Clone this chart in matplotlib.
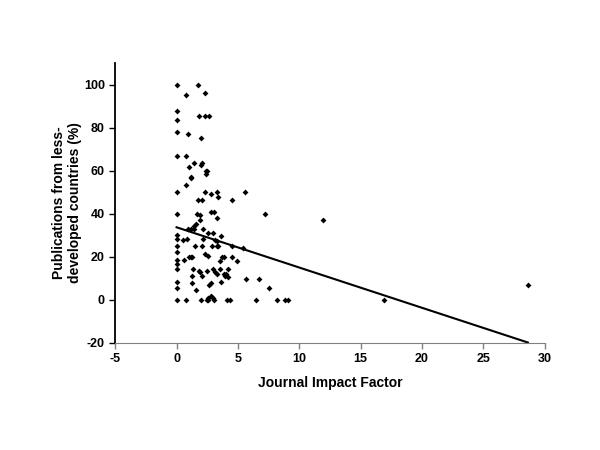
import numpy as np
import matplotlib.pyplot as plt

plt.rcParams['font.family'] = ['Liberation Sans', 'DejaVu Sans']
plt.rcParams['axes.unicode_minus'] = False

# Journal impact factor vs share of publications from less-developed countries
impact = [0, 1.74, 0.79, 2.28, 0, 0, 1.82, 2.28, 2.63, 0, 0.9, 2.0,
          0, 0.79, 1.41, 2.09, 2.0, 0.98, 2.36, 2.47, 2.36, 1.19, 1.17, 0.73,
          0, 2.28, 3.28, 5.59, 2.82, 3.39, 1.71, 2.09, 4.48,
          2.79, 3.04, 0, 1.65, 7.22, 1.93, 3.26, 11.94, 1.87, 1.6, 1.44,
          0.95, 1.17, 1.38, 2.14, 2.52, 2.96, 0, 0, 0.52, 0.81, 3.17, 3.31, 3.64, 2.12,
          0, 1.47, 2.09, 2.85, 3.36, 4.5, 5.4, 3.28,
          0, 2.33, 2.52, 1.0, 1.14, 1.28, 0, 0.62, 3.88, 4.48, 3.72, 3.55, 4.91,
          0, 0, 1.3, 2.98, 3.5, 4.2, 1.82, 2.47, 1.93, 3.15,
          3.28, 3.83, 4.04, 1.25, 2.09, 3.91, 4.2, 5.64, 6.73,
          0, 3.64, 1.28, 28.62, 2.66, 0, 7.54, 2.77, 1.6, 2.77, 2.6, 2.93,
          0, 0.79, 1.98, 2.44, 2.6, 3.07, 4.1, 4.37, 6.51, 8.22, 8.84, 9.09, 16.93]
less_dev = [100, 100, 95.1, 95.9, 87.5, 83.5, 85.6, 85.6, 85.6, 77.9, 76.9, 75.1,
            66.7, 66.7, 63.7, 63.4, 62.5, 61.6, 59.8, 59.8, 58.3, 57.2, 56.4, 53.3,
            50, 50, 50, 50, 49.0, 47.6, 46.6, 46.6, 46.6,
            40.9, 40.9, 40.1, 40.1, 40.1, 39.5, 37.9, 37.3, 37.3, 35.4, 34.2,
            33.1, 33.1, 33.1, 33.1, 31.1, 31.1, 30.0, 28.4, 28.0, 28.4, 28.0, 27.2, 29.5, 28.4,
            24.9, 24.9, 24.9, 24.9, 24.9, 24.9, 23.9, 24.9,
            22.2, 21.3, 20.2, 20.1, 20.1, 20.1, 18.7, 18.7, 20.1, 20.1, 20.1, 18.0, 18.0,
            16.8, 14.3, 14.3, 14.3, 14.3, 14.3, 13.4, 13.4, 12.9, 12.9,
            12.1, 12.1, 12.1, 11.2, 11.2, 11.2, 10.6, 9.8, 9.8,
            8.2, 8.2, 7.8, 7.0, 6.7, 5.4, 5.4, 7.8, 4.7, 1.6, 0.8, 0.8,
            0, 0, 0, 0, 0, 0, 0, 0, 0, 0, 0, 0, 0]

# trendline as drawn in the original (many points overlap, so read it off the figure)
trend_intercept = 33.7
trend_slope = -1.87

x = np.array(impact)
y = np.array(less_dev)

fig = plt.figure(figsize=(6, 4.5), dpi=100)
ax = fig.add_axes([0.192, 0.238, 0.716, 0.622])

ax.scatter(x, y, marker='D', s=9, color='black', zorder=3, linewidths=0)

xs = np.array([x.min(), x.max()])
ax.plot(xs, trend_slope * xs + trend_intercept, color='black', lw=1.5)

ax.set_xlim(-5, 30)
ax.set_ylim(-20, 110)
ax.set_xticks(np.arange(-5, 31, 5))
ax.set_yticks(np.arange(-20, 101, 20))

ax.spines['top'].set_visible(False)
ax.spines['right'].set_visible(False)
ax.spines['bottom'].set_color('#808080')
ax.spines['left'].set_linewidth(1.3)
ax.tick_params(axis='x', colors='#808080', labelcolor='black', length=4, width=1)
ax.tick_params(axis='y', length=4, width=1)
for lab in ax.get_xticklabels() + ax.get_yticklabels():
    lab.set_fontweight('bold')
    lab.set_fontsize(9)

ax.set_xlabel('Journal Impact Factor', fontsize=10, fontweight='bold', labelpad=8)
ax.set_ylabel('Publications from less-\ndeveloped countries (%)', fontsize=10,
              fontweight='bold', labelpad=1)

fig.savefig('out.png', dpi=100)
